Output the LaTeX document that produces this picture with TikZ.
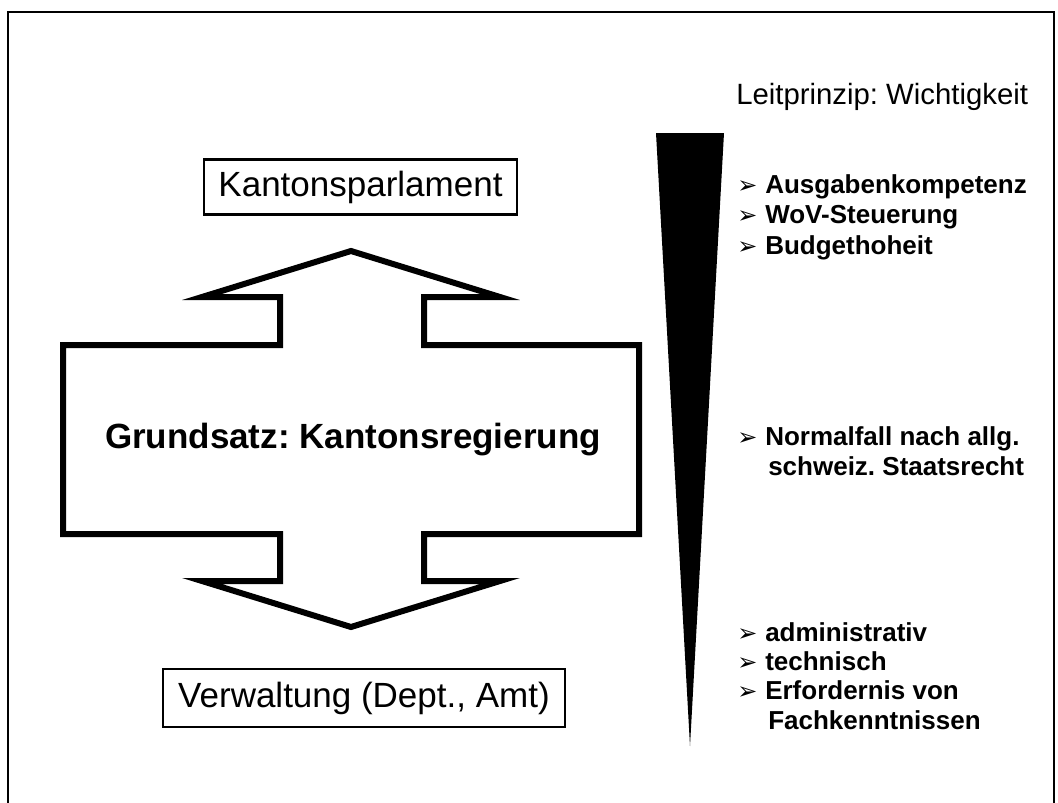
\documentclass[tikz,border=0pt]{standalone}
\usepackage{fontspec}
\setmainfont{Liberation Sans}
\newfontfamily\dejavu{DejaVu Sans}
\begin{document}
\frenchspacing
\begin{tikzpicture}[x=0.75pt,y=-0.75pt,
  frameline/.style={line width=1.5pt},
  bigarrow/.style={line width=4.5pt,line join=miter,miter limit=20},
  labelbox/.style={draw,line width=1.9pt,inner sep=0pt,font=\fontsize{26.25}{30}\selectfont},
  bul/.style={anchor=base west,inner sep=0pt,font=\dejavu\fontsize{18}{22}\selectfont},
  btxt/.style={anchor=base west,inner sep=0pt,font=\fontsize{19.5}{22}\selectfont\bfseries}]
\useasboundingbox (0,0) rectangle (1058,803);
% frame
\draw[frameline] (7.5,803) -- (7.5,11.5) -- (1054,11.5) -- (1054,803);
% double arrow
\draw[bigarrow] (351,251) -- (500,297) -- (424,297) -- (424,345) -- (639,345)
  -- (639,534) -- (424,534) -- (424,581) -- (500,581) -- (351,627)
  -- (202,581) -- (280,581) -- (280,534) -- (63,534) -- (63,345)
  -- (280,345) -- (280,297) -- (202,297) -- cycle;
\node[inner sep=0pt,font=\fontsize{26.25}{30}\selectfont\bfseries] (gs) at (353,440) {Grundsatz: Kantonsregierung};
% boxes
\node[labelbox,minimum width=313pt*0.75,minimum height=55.5pt*0.75] (kp) at (360.5,187) {Kantonsparlament};
\node[labelbox,minimum width=402pt*0.75,minimum height=58pt*0.75] (vw) at (364,698) {Verwaltung (Dept., Amt)};
% wedge
\fill (656,133) -- (724,133) -- (690,746) -- cycle;
% right texts
\node[anchor=base west,inner sep=0pt,font=\fontsize{22}{26}\selectfont] (lp) at (736,104) {Leitprinzip: Wichtigkeit};
\node[bul] (b1) at (737,193) {➢};
\node[btxt] (t1) at (765,193) {Ausgabenkompetenz};
\node[bul] (b2) at (737,223.5) {➢};
\node[btxt] (t2) at (765,223.5) {WoV-Steuerung};
\node[bul] (b3) at (737,254) {➢};
\node[btxt] (t3) at (765,254) {Budgethoheit};
\node[bul] (b4) at (737,445) {➢};
\node[btxt] (t4) at (765,445) {Normalfall nach allg.};
\node[btxt] (t4b) at (768,475) {schweiz. Staatsrecht};
\node[bul] (b5) at (737,641) {➢};
\node[btxt] (t5) at (765,641) {administrativ};
\node[bul] (b6) at (737,670) {➢};
\node[btxt] (t6) at (765,670) {technisch};
\node[bul] (b7) at (737,699.5) {➢};
\node[btxt] (t7) at (765,699.5) {Erfordernis von};
\node[btxt] (t7b) at (768,729) {Fachkenntnissen};
\end{tikzpicture}
\end{document}
